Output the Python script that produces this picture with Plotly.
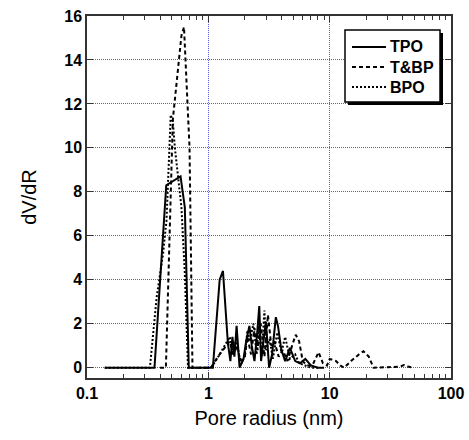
import plotly.graph_objects as go

# ---- data ----
tpo_x = [0.14, 0.36, 0.45, 0.59, 0.64, 0.69, 1.09, 1.24, 1.32, 1.45, 1.52, 1.58, 1.64, 1.71, 1.81,
         1.95, 2.05, 2.18, 2.28, 2.4, 2.52, 2.63, 2.72, 2.85, 2.98, 3.17, 3.35, 3.6, 3.75, 4.0,
         4.3, 4.7, 5.2, 5.7, 6.3, 7.0, 8.0, 9.0]
tpo_y = [0, 0, 8.3, 8.7, 7.3, 0, 0, 4.0, 4.4, 1.1, 0.3, 1.4, 0.5, 1.9, 0,
         0.4, 1.2, 1.9, 1.0, 0.3, 1.5, 2.8, 0.3, 1.2, 2.1, 0, 0.6, 2.3, 1.9, 0.8,
         0.3, 0.9, 0.3, 0.2, 0.4, 0.1, 0.0, 0.0]

tbp_x = [0.40, 0.447, 0.51, 0.57, 0.60, 0.63, 0.64, 0.70, 0.74, 1.05, 1.2, 1.35, 1.5, 1.6, 1.7,
         1.85, 2.0, 2.1, 2.25, 2.4, 2.55, 2.7, 2.9, 3.1, 3.3, 3.5, 3.8, 4.1, 4.5, 4.9,
         5.25, 5.6, 6.0, 6.5, 7.2, 8.1, 8.8, 9.5, 10.0, 11.3, 12.2, 13.2, 15, 17.4, 19,
         21, 23, 30, 38, 41, 44, 49]
tbp_y = [0, 0, 11.3, 14.1, 15.1, 15.5, 14.7, 10, 0, 0, 0.5, 0.9, 1.2, 0.6, 1.0,
         0.3, 0.5, 1.4, 0.6, 1.8, 0.8, 2.0, 0.5, 2.4, 1.0, 1.2, 0.5, 0.8, 0.3, 1.0,
         1.5, 1.2, 0.3, 0.1, 0.1, 0.7, 0.2, 0.1, 0.4, 0.3, 0.1, 0, 0.3, 0.6, 0.75,
         0.5, 0, 0.02, 0.05, 0.12, 0.05, 0]

bpo_x = [0.14, 0.33, 0.375, 0.424, 0.452, 0.48, 0.49, 0.51, 0.53, 0.60, 0.64, 0.68, 1.05, 1.15,
         1.3, 1.4, 1.5, 1.6, 1.7, 1.8, 1.9, 2.0, 2.1, 2.2, 2.35, 2.5, 2.6, 2.75, 2.9, 3.0,
         3.2, 3.4, 3.7, 4.0, 4.3, 4.7, 5.2, 5.6, 6.2, 7.0, 8.0]
bpo_y = [0, 0, 3.2, 5.2, 6.7, 10.8, 11.5, 11.2, 10.0, 7.3, 4.3, 0, 0, 0.3,
         0.8, 1.1, 1.4, 0.8, 1.3, 0.5, 0.2, 0.6, 1.7, 1.2, 2.0, 0.6, 1.9, 0.5, 2.6, 0.8,
         1.3, 0.4, 1.6, 0.7, 1.4, 0.4, 0.6, 0.2, 0.1, 0.0, 0.0]

series_names = ["TPO", "T&BP", "BPO"]
x_ticks = [0.1, 1, 10, 100]
x_tick_labels = ["0.1", "1", "10", "100"]
x_minor_ticks = [m * d for d in (0.1, 1, 10) for m in range(2, 10)]
y_ticks = [0, 2, 4, 6, 8, 10, 12, 14, 16]

dashes = ["solid", "4px,3px", "2px,2px"]
series = [(tpo_x, tpo_y), (tbp_x, tbp_y), (bpo_x, bpo_y)]

fig = go.Figure()
for (sx, sy), name, dsh in zip(series, series_names, dashes):
    fig.add_trace(go.Scatter(x=sx, y=sy, mode="lines", name=name, showlegend=False,
                             line=dict(color="black", width=2, dash=dsh)))

L, R, T, B = 87, 18, 16, 62
W, H = 469, 440
pw, ph = W - L - R, H - T - B

def px2paper_x(p):
    return (p - L) / pw

def py2paper_y(p):
    return (H - B - p) / ph

# custom legend box with shadow
fig.add_shape(type="rect", xref="paper", yref="paper",
              x0=px2paper_x(348), x1=px2paper_x(443),
              y0=py2paper_y(105), y1=py2paper_y(33),
              fillcolor="black", line=dict(width=0), layer="above")
fig.add_shape(type="rect", xref="paper", yref="paper",
              x0=px2paper_x(345), x1=px2paper_x(440),
              y0=py2paper_y(102), y1=py2paper_y(30),
              fillcolor="white", line=dict(color="black", width=1.5), layer="above")
for i, (name, dsh) in enumerate(zip(series_names, dashes)):
    yy = 47 + 20 * i
    fig.add_shape(type="line", xref="paper", yref="paper",
                  x0=px2paper_x(352), x1=px2paper_x(386),
                  y0=py2paper_y(yy), y1=py2paper_y(yy),
                  line=dict(color="black", width=2, dash=dsh), layer="above")
    fig.add_annotation(xref="paper", yref="paper", x=px2paper_x(388), y=py2paper_y(yy),
                       xanchor="left", yanchor="middle", text=name, showarrow=False,
                       font=dict(size=16, weight="bold", color="black"))

grid_col = "#5a5ae6"
fig.update_layout(
    width=W, height=H,
    margin=dict(l=L, r=R, t=T, b=B, autoexpand=False),
    paper_bgcolor="white", plot_bgcolor="white",
    font=dict(family="Liberation Sans, Arial, sans-serif", color="black"),
    showlegend=False,
    xaxis=dict(type="log", range=[-1, 2], tickvals=x_ticks, ticktext=x_tick_labels,
               ticks="inside", ticklen=6, tickcolor="#333", showline=True, mirror="ticks",
               linecolor="#333", linewidth=1.5, automargin=False,
               showgrid=True, gridcolor=grid_col, griddash="1px,1px", gridwidth=1,
               tickfont=dict(size=16, weight="bold"),
               minor=dict(tickvals=x_minor_ticks, ticks="inside", ticklen=4,
                          tickcolor="#333", showgrid=False),
               title=dict(text="Pore radius (nm)", font=dict(size=20), standoff=10),
               zeroline=False),
    yaxis=dict(range=[-0.47, 16], tickvals=y_ticks,
               ticks="inside", ticklen=6, tickcolor="#333", showline=True, mirror="ticks",
               linecolor="#333", linewidth=1.5, automargin=False,
               showgrid=True, gridcolor=grid_col, griddash="1px,1px", gridwidth=1,
               tickfont=dict(size=16, weight="bold"),
               title=dict(text="dV/dR", font=dict(size=20), standoff=22),
               zeroline=False),
)

fig.write_html("out.html", config={"displayModeBar": False},
               post_script="document.body.style.margin='0px';document.body.style.overflow='hidden';")
